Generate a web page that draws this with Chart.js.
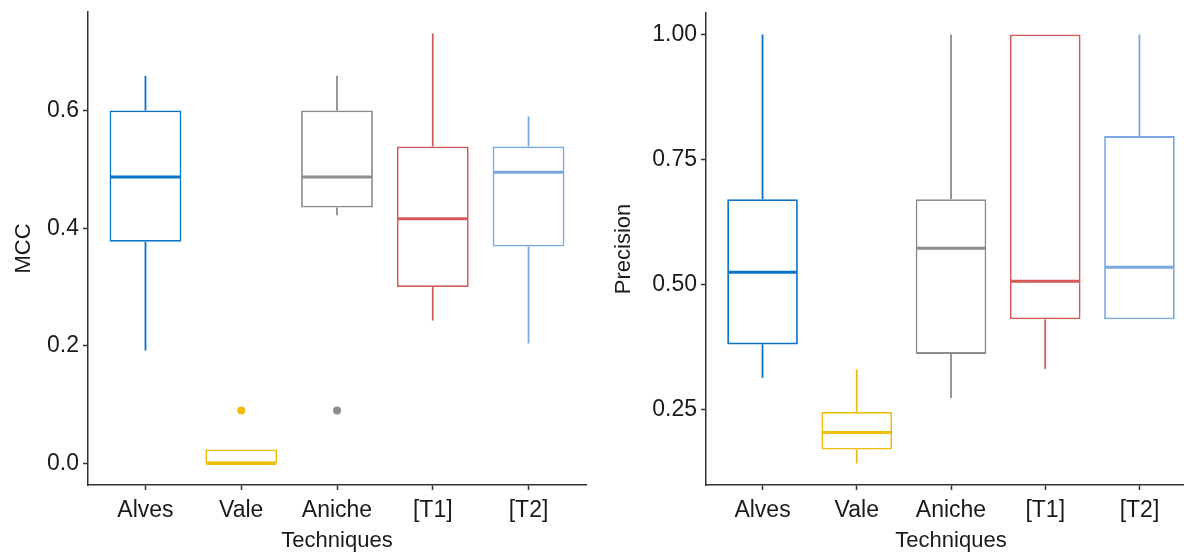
<!DOCTYPE html>
<html>
<head>
<meta charset="utf-8">
<script src="https://cdn.jsdelivr.net/npm/chart.js@4.4.1/dist/chart.umd.min.js"></script>
<style>
  html, body { margin: 0; padding: 0; background: #fff; overflow: hidden; }
  #mcc-chart { position: absolute; left: 0; top: 0; }
  #prec-chart { position: absolute; left: 600px; top: 0; }
</style>
</head>
<body>
<canvas id="mcc-chart" width="600" height="555"></canvas>
<canvas id="prec-chart" width="596" height="555"></canvas>
<script>
const categories = ['Alves', 'Vale', 'Aniche', '[T1]', '[T2]'];
const boxColors = ['#0a74cc', '#efbd0c', '#8c8c8c', '#d45a57', '#7ca8e2'];

// MCC panel (whisker low, Q1, median, Q3, whisker high, outliers)
const mccLow = [0.192, 0.0, 0.422, 0.243, 0.204];
const mccQ1 = [0.377, 0.0, 0.435, 0.300, 0.369];
const mccMedian = [0.487, 0.0, 0.487, 0.416, 0.495];
const mccQ3 = [0.600, 0.024, 0.600, 0.539, 0.539];
const mccHigh = [0.659, 0.024, 0.659, 0.731, 0.590];
const mccOutliers = [[], [0.09], [0.09], [], []];
const mccTicks = [0.0, 0.2, 0.4, 0.6];

// Precision panel
const precLow = [0.314, 0.143, 0.274, 0.332, 0.431];
const precQ1 = [0.381, 0.171, 0.362, 0.431, 0.431];
const precMedian = [0.525, 0.205, 0.573, 0.507, 0.535];
const precQ3 = [0.671, 0.246, 0.671, 1.0, 0.797];
const precHigh = [1.0, 0.331, 1.0, 1.0, 1.0];
const precOutliers = [[], [], [], [], []];
const precTicks = [0.25, 0.50, 0.75, 1.00];

const textColor = '#1a1a1a';
const axisColor = '#333333';
const fontFamily = "'Liberation Sans', Arial, sans-serif";

// Whiskers and median lines, drawn through the chart's scales
const boxExtras = {
  id: 'boxExtras',
  afterDatasetsDraw(chart, args, opts) {
    const { ctx } = chart;
    const x = chart.scales.x;
    const y = chart.scales.y;
    const meta = chart.getDatasetMeta(0);
    const line = (x1, y1, x2, y2) => {
      ctx.beginPath();
      ctx.moveTo(x1, y1);
      ctx.lineTo(x2, y2);
      ctx.stroke();
    };
    ctx.save();
    opts.median.forEach((m, i) => {
      const cx = x.getPixelForValue(i + 1);
      const half = meta.data[i].width / 2;
      ctx.strokeStyle = boxColors[i];
      ctx.lineWidth = 1.8;
      if (opts.high[i] > opts.q3[i]) line(cx, y.getPixelForValue(opts.q3[i]), cx, y.getPixelForValue(opts.high[i]));
      if (opts.low[i] < opts.q1[i]) line(cx, y.getPixelForValue(opts.q1[i]), cx, y.getPixelForValue(opts.low[i]));
      ctx.lineWidth = 3;
      const my = y.getPixelForValue(m);
      line(cx - half + 1, my, cx + half - 1, my);
    });
    ctx.restore();
  }
};

function makeBoxChart(id, s) {
  const allVals = s.low.concat(s.high, s.outliers.flat());
  const lo = Math.min(...allVals);
  const hi = Math.max(...allVals);
  const pad = (hi - lo) * 0.05;

  const boxData = categories.map((c, i) => ({ x: i + 1, y: [s.q1[i], s.q3[i]] }));
  const outlierData = [];
  const outlierColors = [];
  s.outliers.forEach((list, i) => list.forEach(v => {
    outlierData.push({ x: i + 1, y: v });
    outlierColors.push(boxColors[i]);
  }));

  return new Chart(document.getElementById(id), {
    type: 'bar',
    data: {
      datasets: [{
        data: boxData,
        backgroundColor: '#ffffff',
        borderColor: boxColors,
        borderWidth: 1.8,
        borderSkipped: false,
        barPercentage: 0.75,
        categoryPercentage: 1
      }, {
        type: 'scatter',
        data: outlierData,
        pointRadius: 4,
        pointBorderWidth: 0,
        pointBackgroundColor: outlierColors
      }]
    },
    options: {
      responsive: false,
      animation: false,
      events: [],
      layout: { padding: s.padding },
      plugins: {
        legend: { display: false },
        tooltip: { enabled: false },
        boxExtras: s
      },
      scales: {
        x: {
          type: 'linear',
          min: 0.4,
          max: 5.6,
          offset: false,
          afterBuildTicks: (scale) => { scale.ticks = categories.map((c, i) => ({ value: i + 1 })); },
          afterFit: (scale) => { scale.height = 70; scale.paddingLeft = 0; scale.paddingRight = 0; },
          ticks: {
            callback: (v) => categories[v - 1],
            color: textColor,
            font: { family: fontFamily, size: 23 },
            padding: 7,
            maxRotation: 0,
            autoSkip: false
          },
          grid: { offset: false, drawOnChartArea: false, tickLength: 5, tickColor: axisColor, tickWidth: 1.5 },
          border: { display: true, color: axisColor, width: 1.5 },
          title: {
            display: true,
            text: 'Techniques',
            color: textColor,
            font: { family: fontFamily, size: 22 },
            padding: { top: 0, bottom: 1 }
          }
        },
        y: {
          type: 'linear',
          min: lo - pad,
          max: hi + pad,
          afterBuildTicks: (scale) => { scale.ticks = s.ticks.map(v => ({ value: v })); },
          afterFit: (scale) => { scale.width = s.axisWidth; scale.paddingTop = 0; scale.paddingBottom = 0; },
          ticks: {
            callback: (v) => v.toFixed(s.decimals),
            color: textColor,
            font: { family: fontFamily, size: 23 },
            padding: 4
          },
          grid: { drawOnChartArea: false, tickLength: 5, tickColor: axisColor, tickWidth: 1.5 },
          border: { display: true, color: axisColor, width: 1.5 },
          title: {
            display: true,
            text: s.title,
            color: textColor,
            font: { family: fontFamily, size: 22 },
            padding: { top: s.titlePad, bottom: 0 }
          }
        }
      }
    },
    plugins: [boxExtras]
  });
}

makeBoxChart('mcc-chart', {
  low: mccLow, q1: mccQ1, median: mccMedian, q3: mccQ3, high: mccHigh,
  outliers: mccOutliers, ticks: mccTicks, decimals: 1, title: 'MCC',
  axisWidth: 88, titlePad: 11, padding: { top: 12, right: 14, bottom: 0, left: 0 }
});

makeBoxChart('prec-chart', {
  low: precLow, q1: precQ1, median: precMedian, q3: precQ3, high: precHigh,
  outliers: precOutliers, ticks: precTicks, decimals: 2, title: 'Precision',
  axisWidth: 106, titlePad: 11, padding: { top: 13, right: 0, bottom: 0, left: 0 }
});
</script>
</body>
</html>
